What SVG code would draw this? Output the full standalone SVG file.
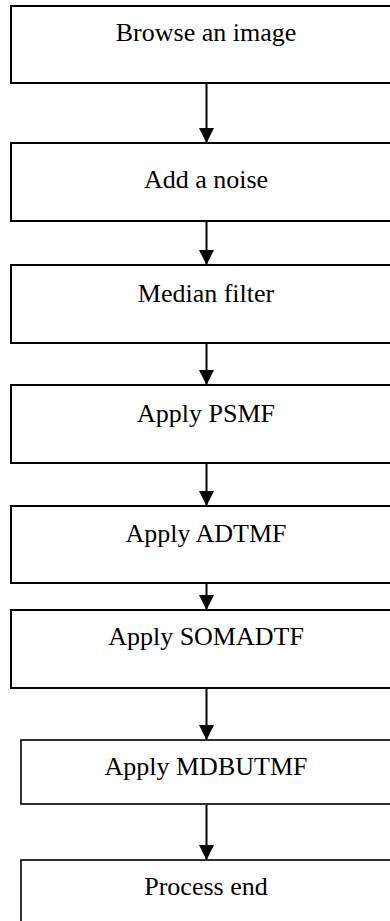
<svg xmlns="http://www.w3.org/2000/svg" width="390" height="921" viewBox="0 0 390 921">
<style>
.box{fill:#fff;stroke:#000;stroke-width:2}
.thin{stroke-width:1.6}
.lbl{font-family:"Liberation Serif","Times New Roman",serif;font-size:26px;fill:#000;text-anchor:middle}
.conn{stroke:#000;stroke-width:2;fill:none;marker-end:url(#ah)}
</style>
<defs>
<marker id="ah" markerUnits="userSpaceOnUse" markerWidth="16" markerHeight="16" refX="15" refY="7.5" orient="auto">
<path d="M0,0 L15,7.5 L0,15 Z" fill="#000"/>
</marker>
</defs>
<rect width="390" height="921" fill="#fff"/>
<g id="n1"><rect class="box" x="11" y="6" width="390" height="77"/><text class="lbl" x="206" y="41">Browse an image</text></g>
<g id="n2"><rect class="box" x="11" y="143" width="390" height="78"/><text class="lbl" x="206" y="188">Add a noise</text></g>
<g id="n3"><rect class="box" x="11" y="265" width="390" height="78"/><text class="lbl" x="206" y="302">Median filter</text></g>
<g id="n4"><rect class="box" x="11" y="385" width="390" height="78"/><text class="lbl" x="206" y="422">Apply PSMF</text></g>
<g id="n5"><rect class="box" x="11" y="506" width="390" height="77"/><text class="lbl" x="206" y="542">Apply ADTMF</text></g>
<g id="n6"><rect class="box" x="11" y="610" width="390" height="78"/><text class="lbl" x="206" y="645">Apply SOMADTF</text></g>
<g id="n7"><rect class="box thin" x="21" y="740" width="380" height="64"/><text class="lbl" x="206" y="775">Apply MDBUTMF</text></g>
<g id="n8"><rect class="box thin" x="21" y="860" width="380" height="80"/><text class="lbl" x="206" y="895">Process end</text></g>
<g id="connectors">
<line class="conn" x1="206.5" y1="84" x2="206.5" y2="143"/>
<line class="conn" x1="206.5" y1="222" x2="206.5" y2="265"/>
<line class="conn" x1="206.5" y1="344" x2="206.5" y2="385"/>
<line class="conn" x1="206.5" y1="464" x2="206.5" y2="506"/>
<line class="conn" x1="206.5" y1="584" x2="206.5" y2="610"/>
<line class="conn" x1="206.5" y1="689" x2="206.5" y2="740"/>
<line class="conn" x1="206.5" y1="805" x2="206.5" y2="860"/>
</g>
</svg>
